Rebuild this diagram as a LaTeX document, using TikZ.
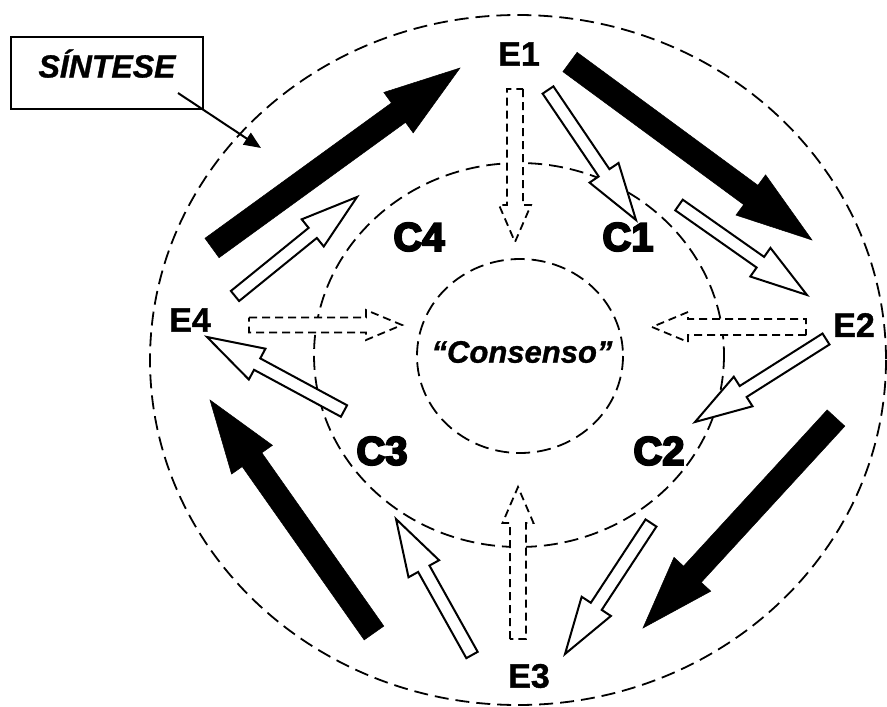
\documentclass[tikz,border=0pt]{standalone}
\usepackage{fontspec}
\setmainfont{Liberation Sans}
\newfontfamily\heavyfont{Liberation Sans Bold}[FakeBold=5]
\newfontfamily\efont{Liberation Sans Bold}[FakeBold=1.2]
\newfontfamily\bifont{Liberation Sans Bold Italic}[FakeBold=1]
\usetikzlibrary{calc,arrows.meta}
\newcommand\blockarrow[6]{%
  \coordinate (ba-h) at ($(#3)!#6!(#2)$);
  \draw[#1] ($(#2)!#4!90:(#3)$) -- ($(ba-h)!#4!90:(#3)$) -- ($(ba-h)!#5!90:(#3)$) -- (#3)
    -- ($(ba-h)!#5!-90:(#3)$) -- ($(ba-h)!#4!-90:(#3)$) -- ($(#2)!#4!-90:(#3)$) -- cycle;
}
\begin{document}
\begin{tikzpicture}[x=1pt,y=-1pt,
  elab/.style={font=\fontsize{34}{34}\selectfont\efont, inner sep=0pt},
  clab/.style={font=\fontsize{40}{40}\selectfont\heavyfont, inner sep=0pt},
  ring/.style={draw, dash pattern=on 14pt off 7pt, line width=1.8pt},
  blackarrow/.style={fill=black, draw=black, line width=0.5pt},
  whitearrow/.style={draw=black, fill=white, line width=2pt, line join=miter},
  dasharrow/.style={draw=black, fill=white, dash pattern=on 8pt off 5pt, line width=1.8pt},
  titlebox/.style={draw, line width=2pt, minimum width=192pt, text height=24pt, text depth=15pt, inner ysep=16.5pt, inner xsep=0pt,
    font=\fontsize{32}{32}\selectfont\bifont},
  pointer/.style={line width=2pt, -{Triangle[length=17pt,width=14pt]}}
]
\useasboundingbox (0,0) rectangle (887,707);
% rings
\draw[ring] (518,360) ellipse [x radius=368, y radius=345];
\draw[ring] (519,355) ellipse [x radius=205, y radius=192];
\draw[ring] (520,356) ellipse [x radius=103, y radius=97];
% arrow end points
\coordinate (b1s) at (212,248); \coordinate (b1e) at (460,68);
\coordinate (b2s) at (570,62);  \coordinate (b2e) at (812,240);
\coordinate (b3s) at (836,418); \coordinate (b3e) at (643,628);
\coordinate (b4s) at (374,633); \coordinate (b4e) at (210,400);
\coordinate (w1s) at (548,90);  \coordinate (w1e) at (636,220);
\coordinate (w2s) at (679,205); \coordinate (w2e) at (807,295);
\coordinate (w3s) at (826,339); \coordinate (w3e) at (695,422);
\coordinate (w4s) at (651,523); \coordinate (w4e) at (565,654);
\coordinate (w5s) at (472,655); \coordinate (w5e) at (396,519);
\coordinate (w6s) at (344,411); \coordinate (w6e) at (207,337);
\coordinate (w7s) at (235,296); \coordinate (w7e) at (357,197);
\coordinate (d1s) at (515,89);  \coordinate (d1e) at (515,242);
\coordinate (d2s) at (806,327); \coordinate (d2e) at (652,327);
\coordinate (d3s) at (518,639); \coordinate (d3e) at (518,487);
\coordinate (d4s) at (249,325); \coordinate (d4e) at (402,325);
% black arrows
\blockarrow{blackarrow}{b1s}{b1e}{12pt}{25pt}{76pt}
\blockarrow{blackarrow}{b2s}{b2e}{12pt}{25pt}{76pt}
\blockarrow{blackarrow}{b3s}{b3e}{12pt}{25pt}{73pt}
\blockarrow{blackarrow}{b4s}{b4e}{12pt}{25pt}{73pt}
% white arrows
\blockarrow{whitearrow}{w1s}{w1e}{6.5pt}{17.5pt}{57pt}
\blockarrow{whitearrow}{w2s}{w2e}{6.5pt}{17.5pt}{57pt}
\blockarrow{whitearrow}{w3s}{w3e}{6.5pt}{17.5pt}{57pt}
\blockarrow{whitearrow}{w4s}{w4e}{6.5pt}{17.5pt}{57pt}
\blockarrow{whitearrow}{w5s}{w5e}{6.5pt}{17.5pt}{57pt}
\blockarrow{whitearrow}{w6s}{w6e}{6.5pt}{17.5pt}{57pt}
\blockarrow{whitearrow}{w7s}{w7e}{6.5pt}{17.5pt}{57pt}
% dashed arrows
\blockarrow{dasharrow}{d1s}{d1e}{8pt}{16pt}{37pt}
\blockarrow{dasharrow}{d2s}{d2e}{8pt}{15pt}{36pt}
\blockarrow{dasharrow}{d3s}{d3e}{8pt}{15.5pt}{36pt}
\blockarrow{dasharrow}{d4s}{d4e}{7.5pt}{15pt}{36pt}
% title box
\node[titlebox] (sintese) at (107,73) {SÍNTESE};
\coordinate (ps) at (178,93); \coordinate (pe) at (261,148);
\draw[pointer] (ps) -- (pe);
% labels
\node[elab] (E1) at (519,54) {E1};
\node[elab] (E2) at (854,325) {E2};
\node[elab] (E3) at (529,676) {E3};
\node[elab] (E4) at (190,320) {E4};
\node[clab] (C1) at (628,237) {C1};
\node[clab] (C2) at (659,451) {C2};
\node[clab] (C3) at (382,451) {C3};
\node[clab] (C4) at (419,237) {C4};
\node[inner sep=0pt, font=\fontsize{31}{31}\selectfont\bifont] (cons) at (522,352) {“Consenso”};
\end{tikzpicture}
\end{document}
